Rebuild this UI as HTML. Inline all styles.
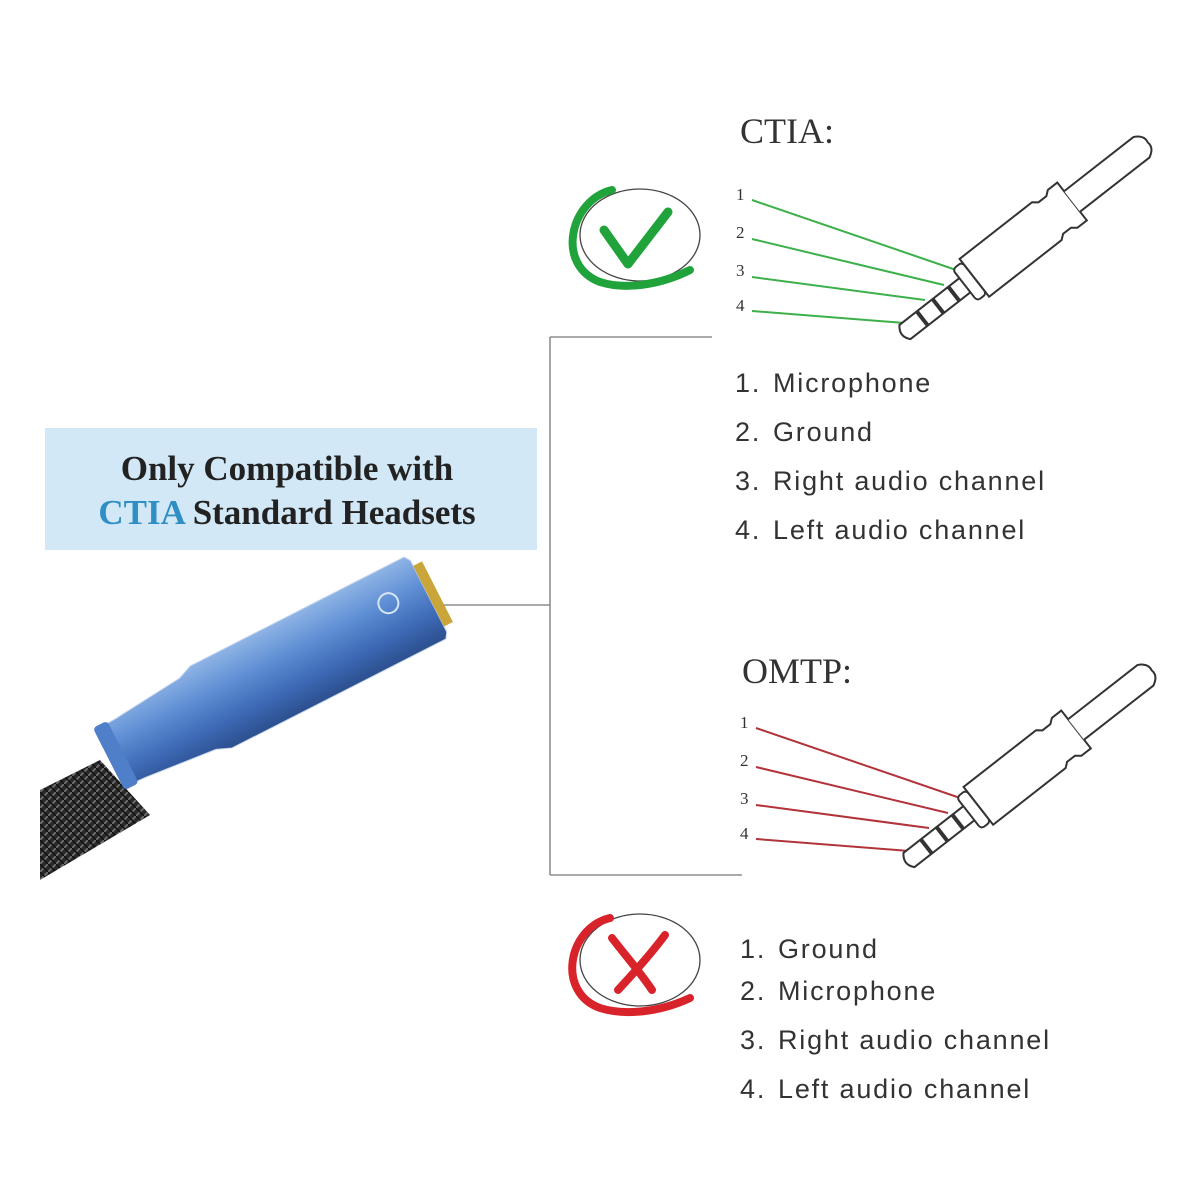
<!DOCTYPE html>
<html><head><meta charset="utf-8"><style>
html,body{margin:0;padding:0;background:#fff;}
svg{display:block}
</style></head><body>
<svg width="1200" height="1200" viewBox="0 0 1200 1200" xmlns="http://www.w3.org/2000/svg">
<defs>
<linearGradient id="bl" x1="0" y1="0" x2="0" y2="1">
<stop offset="0" stop-color="#8fb4e6"/><stop offset="0.35" stop-color="#5f8fd4"/><stop offset="0.7" stop-color="#3e6ab6"/><stop offset="1" stop-color="#2c4f8e"/>
</linearGradient>
<pattern id="braid" width="8" height="8" patternUnits="userSpaceOnUse">
<rect width="8" height="8" fill="#2a2a2a"/><path d="M0 8 L8 0" stroke="#6a6a6a" stroke-width="2"/><path d="M0 0 L8 8" stroke="#111" stroke-width="1.5"/>
</pattern>
</defs>
<rect x="45" y="428" width="492" height="122" fill="#d2e8f6"/>
<text x="287" y="480" text-anchor="middle" font-family="Liberation Serif, serif" font-weight="bold" font-size="35" fill="#222">Only Compatible with</text>
<text x="287" y="524" text-anchor="middle" font-family="Liberation Serif, serif" font-weight="bold" font-size="35" fill="#222"><tspan fill="#2f8fc4">CTIA</tspan> Standard Headsets</text>

<g stroke="#777" stroke-width="1.3" fill="none">
<line x1="440" y1="605" x2="550" y2="605"/>
<line x1="550" y1="337" x2="550" y2="875"/>
<line x1="550" y1="337" x2="712" y2="337"/>
<line x1="550" y1="875" x2="742" y2="875"/>
</g>

<polygon points="40,790 100,760 150,815 40,880" fill="url(#braid)"/>
<g transform="translate(425,598) rotate(-27)">
<path d="M-350,-32 L-330,-33 L-255,-40 L-240,-46 L0,-46 L4,-40 L4,40 L0,46 L-240,46 L-255,40 L-330,33 L-350,32 Z" fill="url(#bl)" stroke="#c4d4ec" stroke-width="1"/>
<rect x="-355" y="-35" width="16" height="70" rx="4" fill="#4f7fc8"/>
<rect x="4" y="-34" width="10" height="68" fill="#c9a53a"/>
<circle cx="-35" cy="-12" r="10" fill="none" stroke="#d6e4f7" stroke-width="2"/>
</g>

<text x="740" y="143" font-family="Liberation Serif, serif" font-size="36" fill="#333">CTIA:</text>
<ellipse cx="640" cy="235" rx="60" ry="46" fill="none" stroke="#444" stroke-width="1.3"/>
<path d="M612,190 C570,200 555,265 600,282 C625,290 660,285 690,270" fill="none" stroke="#1fa33a" stroke-width="8" stroke-linecap="round"/>
<path d="M604,230 L628,264 L668,212" fill="none" stroke="#1fa33a" stroke-width="9" stroke-linecap="round" stroke-linejoin="round"/>

<g>
<g font-family="Liberation Serif, serif" font-size="17" fill="#333">
<text x="736" y="200">1</text><text x="736" y="238">2</text><text x="736" y="276">3</text><text x="736" y="311">4</text>
</g>
<g stroke="#3cb04a" stroke-width="2" fill="none">
<line x1="752" y1="200" x2="962" y2="272"/>
<line x1="752" y1="239" x2="944" y2="285"/>
<line x1="752" y1="277" x2="925" y2="300"/>
<line x1="752" y1="311" x2="905" y2="323"/>
</g>
<g transform="translate(905,332) rotate(-38)" fill="#fff" stroke="#333" stroke-width="2">
<path d="M0,-9 L80,-9 L80,9 L0,9 Q-8,0 0,-9 Z"/>
<line x1="22" y1="-9" x2="22" y2="9" stroke-width="4"/>
<line x1="42" y1="-9" x2="42" y2="9" stroke-width="4"/>
<line x1="62" y1="-9" x2="62" y2="9" stroke-width="4"/>
<rect x="76" y="-20" width="12" height="40" rx="4"/>
<path d="M88,-24 L180,-24 L185,-20 L195,-20 L200,-24 L212,-24 L212,24 L200,24 L195,20 L185,20 L180,24 L88,24 Z"/>
<path d="M212,-13 L300,-13 Q310,-8 308,0 Q310,8 300,13 L212,13"/>
</g>
</g>

<g font-family="Liberation Sans, sans-serif" font-size="27" fill="#333" letter-spacing="1.8">
<text y="392"><tspan x="735">1.</tspan><tspan x="773">Microphone</tspan></text>
<text y="441"><tspan x="735">2.</tspan><tspan x="773">Ground</tspan></text>
<text y="490"><tspan x="735">3.</tspan><tspan x="773">Right audio channel</tspan></text>
<text y="539"><tspan x="735">4.</tspan><tspan x="773">Left audio channel</tspan></text>
</g>

<text x="742" y="683" font-family="Liberation Serif, serif" font-size="36" fill="#333">OMTP:</text>
<g transform="translate(4,528)">
<g font-family="Liberation Serif, serif" font-size="17" fill="#333">
<text x="736" y="200">1</text><text x="736" y="238">2</text><text x="736" y="276">3</text><text x="736" y="311">4</text>
</g>
<g stroke="#b2333a" stroke-width="2" fill="none">
<line x1="752" y1="200" x2="962" y2="272"/>
<line x1="752" y1="239" x2="944" y2="285"/>
<line x1="752" y1="277" x2="925" y2="300"/>
<line x1="752" y1="311" x2="905" y2="323"/>
</g>
<g transform="translate(905,332) rotate(-38)" fill="#fff" stroke="#333" stroke-width="2">
<path d="M0,-9 L80,-9 L80,9 L0,9 Q-8,0 0,-9 Z"/>
<line x1="22" y1="-9" x2="22" y2="9" stroke-width="4"/>
<line x1="42" y1="-9" x2="42" y2="9" stroke-width="4"/>
<line x1="62" y1="-9" x2="62" y2="9" stroke-width="4"/>
<rect x="76" y="-20" width="12" height="40" rx="4"/>
<path d="M88,-24 L180,-24 L185,-20 L195,-20 L200,-24 L212,-24 L212,24 L200,24 L195,20 L185,20 L180,24 L88,24 Z"/>
<path d="M212,-13 L300,-13 Q310,-8 308,0 Q310,8 300,13 L212,13"/>
</g>
</g>

<ellipse cx="640" cy="960" rx="60" ry="46" fill="none" stroke="#444" stroke-width="1.3"/>
<path d="M610,918 C568,928 556,992 600,1008 C625,1016 660,1012 690,998" fill="none" stroke="#d8232a" stroke-width="8" stroke-linecap="round"/>
<path d="M612,938 C625,955 640,972 652,990 M665,935 C650,955 632,975 618,990" fill="none" stroke="#d8232a" stroke-width="8" stroke-linecap="round"/>

<g font-family="Liberation Sans, sans-serif" font-size="27" fill="#333" letter-spacing="1.8">
<text y="958"><tspan x="740">1.</tspan><tspan x="778">Ground</tspan></text>
<text y="1000"><tspan x="740">2.</tspan><tspan x="778">Microphone</tspan></text>
<text y="1049"><tspan x="740">3.</tspan><tspan x="778">Right audio channel</tspan></text>
<text y="1098"><tspan x="740">4.</tspan><tspan x="778">Left audio channel</tspan></text>
</g>
</svg>
</body></html>
